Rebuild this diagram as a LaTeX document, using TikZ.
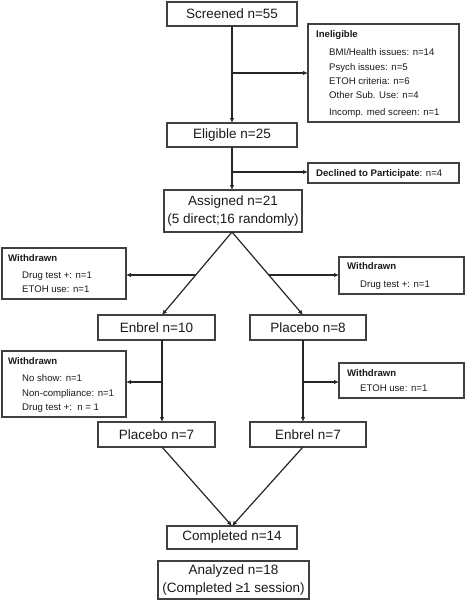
\documentclass[tikz,border=0pt]{standalone}
\usepackage{fontspec}
\setmainfont{Liberation Sans}
\usetikzlibrary{arrows.meta,calc}
\begin{document}
\begin{tikzpicture}[x=1pt,y=-1pt,
 box/.style={draw=black!75, line width=1.1pt, inner sep=0pt, outer sep=0pt, align=center, text=black!90,
   font=\fontsize{13.5}{18.5}\selectfont},
 sbox/.style={draw=black!75, line width=1.1pt, inner sep=0pt, outer sep=0pt},
 txt/.style={anchor=mid west, inner sep=0pt, text=black!90, font=\fontsize{9.6}{11}\selectfont},
 hd/.style={txt, font=\fontsize{9.6}{11}\selectfont\bfseries},
 conn/.style={draw=black!85, line width=1.2pt, -{Latex[length=5pt,width=4.5pt]}},
 ]
\useasboundingbox (0,0) rectangle (466,600);
% main boxes
\node[box, minimum width=130, minimum height=24] (scr) at (232,14) {Screened n=55};
\node[box, minimum width=130, minimum height=24] (elig) at (232,135) {Eligible n=25};
\node[box, minimum width=138, minimum height=42] (asg) at (233,211) {Assigned n=21\\(5 direct;16 randomly)};
\node[box, minimum width=117, minimum height=25] (e10) at (156.5,327.5) {Enbrel n=10};
\node[box, minimum width=116, minimum height=25] (p8) at (308,327.5) {Placebo n=8};
\node[box, minimum width=117, minimum height=25] (p7) at (156.5,434.5) {Placebo n=7};
\node[box, minimum width=116, minimum height=25] (e7) at (308,434.5) {Enbrel n=7};
\node[box, minimum width=130, minimum height=23] (comp) at (232,537.5) {Completed n=14};
\node[box, minimum width=151, minimum height=38] (ana) at (233.5,580) {Analyzed n=18\\(Completed ≥1 session)};
% side boxes
\node[sbox, minimum width=151, minimum height=98] (inel) at (383.5,73) {};
\node[sbox, minimum width=151, minimum height=20] (decl) at (383.5,173) {};
\node[sbox, minimum width=124, minimum height=51] (wl1) at (64,273.5) {};
\node[sbox, minimum width=125, minimum height=37] (wr1) at (401.5,275.5) {};
\node[sbox, minimum width=124, minimum height=66] (wl2) at (64,384) {};
\node[sbox, minimum width=125, minimum height=35] (wr2) at (401.5,380.5) {};
% side texts
\node[hd] (t1) at (316,35) {Ineligible};
\node[txt] (t2) at (329,53) {BMI/Health issues: n=14};
\node[txt] (t3) at (329,67.5) {Psych issues: n=5};
\node[txt] (t4) at (329,81.5) {ETOH criteria: n=6};
\node[txt] (t5) at (329,96) {Other Sub. Use: n=4};
\node[txt] (t6) at (329,113) {Incomp. med screen: n=1};
\node[txt] (t7) at (316,173.5) {\textbf{Declined to Participate}: n=4};
\node[hd] (t8) at (8,259) {Withdrawn};
\node[txt] (t9) at (22,276) {Drug test +: n=1};
\node[txt] (t10) at (22,290) {ETOH use: n=1};
\node[hd] (t11) at (347,267) {Withdrawn};
\node[txt] (t12) at (360,285) {Drug test +: n=1};
\node[hd] (t13) at (8,362) {Withdrawn};
\node[txt] (t14) at (22,379) {No show: n=1};
\node[txt] (t15) at (22,394) {Non-compliance: n=1};
\node[txt] (t16) at (22,408) {Drug test +:\ \ n = 1};
\node[hd] (t17) at (347,374) {Withdrawn};
\node[txt] (t18) at (360,389) {ETOH use: n=1};
% columns
\coordinate (colL) at (162,0);
\coordinate (colR) at (303,0);
\coordinate (top) at (232,232);
% connectors
\draw[conn] (scr.south) -- (elig.north);
\coordinate (b1) at (232,73);
\draw[conn] (b1) -- (b1 -| inel.west);
\draw[conn] (elig.south) -- (elig.south |- asg.north);
\coordinate (b2) at (232,172);
\draw[conn] (b2) -- (b2 -| decl.west);
\draw[conn] (top) -- (e10.north -| colL);
\draw[conn] (top) -- (p8.north -| colR);
\coordinate (d1) at ($(top)!0.518!(e10.north -| colL)$);
\coordinate (d2) at ($(top)!0.518!(p8.north -| colR)$);
\draw[conn] (d1) -- (d1 -| wl1.east);
\draw[conn] (d2) -- (d2 -| wr1.west);
\draw[conn] (e10.south -| colL) -- (p7.north -| colL);
\draw[conn] (p8.south -| colR) -- (e7.north -| colR);
\coordinate (d3) at (162,382);
\coordinate (d4) at (303,382);
\draw[conn] (d3) -- (d3 -| wl2.east);
\draw[conn] (d4) -- (d4 -| wr2.west);
\draw[conn] (p7.south -| colL) -- (comp.north);
\draw[conn] (e7.south -| colR) -- (comp.north);
\end{tikzpicture}
\end{document}
